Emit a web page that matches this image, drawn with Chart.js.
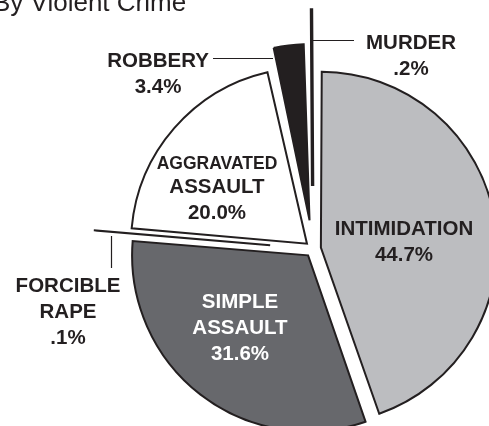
<!DOCTYPE html>
<html>
<head>
<meta charset="utf-8">
<title>By Violent Crime</title>
<script src="https://cdn.jsdelivr.net/npm/chart.js@4.4.1/dist/chart.umd.min.js"></script>
<style>
  html, body { margin: 0; padding: 0; background: #ffffff; }
  #wrap { position: relative; width: 489px; height: 426px; overflow: hidden; }
</style>
</head>
<body>
<div id="wrap"><canvas id="crimeChart"></canvas></div>
<script>
// data, clockwise from 12 o'clock
const categories = ["INTIMIDATION", "SIMPLE ASSAULT", "FORCIBLE RAPE", "AGGRAVATED ASSAULT", "ROBBERY", "MURDER"];
const percents = [44.7, 31.6, 0.1, 20.0, 3.4, 0.2];
const percentText = ["44.7%", "31.6%", ".1%", "20.0%", "3.4%", ".2%"];

// styling
const ink = "#231f20";
const sliceColors = ["#bcbdc0", "#67686c", ink, "#ffffff", ink, "#3a3637"];
const sliceBorders = [2, 2, 2, 2, 2, 3.4];
const pullOut = [8, 8, 43, 8, 29, 63];   // how far each slice sits from the centre, px
const pieRadius = 176;
const fontFamily = "'Liberation Sans', Arial, Helvetica, sans-serif";

// where each label's first line sits (centre x, baseline y)
const labelSpots = [
    { x: 404, y: 235, color: ink },
    { x: 240, y: 308, color: "#ffffff" },
    { x: 68, y: 292, color: ink },
    { x: 217, y: 169, color: ink, firstSize: 17.5, firstGap: 24 },
    { x: 158, y: 67, color: ink },
    { x: 411, y: 49, color: ink }
];

// Chart.js grows thin exploded slices outward; keep every slice on the same radius
const evenRadius = {
    id: "evenRadius",
    afterDatasetUpdate(chart, args) {
        args.meta.data.forEach((arc, i) => {
            const shift = pullOut[i];
            const fix = 1 - Math.sin(Math.min(Math.PI, arc.circumference));
            arc.outerRadius = pieRadius - shift * fix;
        });
    }
};

const textLayer = {
    id: "textLayer",
    afterDraw(chart) {
        const ctx = chart.ctx;
        ctx.save();

        // title, cut off by the top of the picture
        ctx.fillStyle = ink;
        ctx.textAlign = "left";
        ctx.textBaseline = "alphabetic";
        ctx.font = "26px " + fontFamily;
        ctx.fillText("By Violent Crime", -7, 11);

        // callout lines
        ctx.strokeStyle = ink;
        ctx.lineWidth = 1.2;
        ctx.beginPath();
        ctx.moveTo(213, 58.5); ctx.lineTo(273, 58.5);   // robbery
        ctx.moveTo(313, 40.5); ctx.lineTo(354, 40.5);   // murder
        ctx.moveTo(111.5, 236); ctx.lineTo(111.5, 268); // forcible rape
        ctx.stroke();

        ctx.textAlign = "center";
        categories.forEach((name, i) => {
            const spot = labelSpots[i];
            const lines = name.split(" ").concat(percentText[i]);
            let y = spot.y;
            ctx.fillStyle = spot.color;
            lines.forEach((line, k) => {
                const size = (k === 0 && spot.firstSize) ? spot.firstSize : 20.5;
                ctx.font = "bold " + size + "px " + fontFamily;
                ctx.fillText(line, spot.x, y);
                y += (k === 0 && spot.firstGap) ? spot.firstGap : 26;
            });
        });

        ctx.restore();
    }
};

new Chart(document.getElementById("crimeChart"), {
    type: "pie",
    data: {
        labels: categories,
        datasets: [{
            data: percents,
            backgroundColor: sliceColors,
            borderColor: ink,
            borderWidth: sliceBorders,
            borderJoinStyle: "miter",
            offset: pullOut.map(p => p * 4),
            radius: pieRadius,
            clip: false
        }]
    },
    options: {
        responsive: true,
        maintainAspectRatio: false,
        animation: false,
        events: [],
        radius: pieRadius,
        layout: {
            padding: { left: 137, right: 0, top: 72, bottom: 0 }
        },
        plugins: {
            legend: { display: false },
            tooltip: { enabled: false },
            title: { display: false }
        }
    },
    plugins: [evenRadius, textLayer]
});
</script>
</body>
</html>
